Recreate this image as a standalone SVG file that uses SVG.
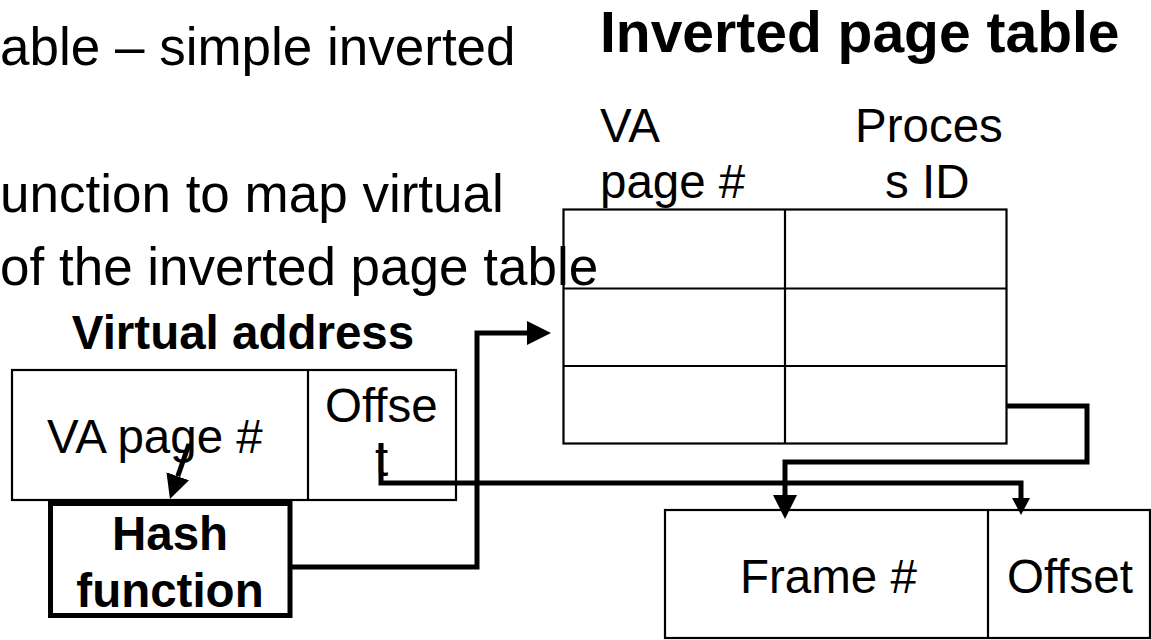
<svg xmlns="http://www.w3.org/2000/svg" width="1151" height="640" viewBox="0 0 1151 640">
<style>
  text { font-family: "Liberation Sans", Arial, sans-serif; fill: #000; }
  .body { font-size: 53px; }
  .title { font-size: 57px; font-weight: bold; }
  .lbl { font-size: 47.5px; }
  .blbl { font-size: 47.5px; font-weight: bold; }
  .box { fill: #fff; stroke: #000; stroke-width: 2.2; }
  .tbl { fill: none; stroke: #000; stroke-width: 2.2; }
  .thin { fill: none; stroke: #000; stroke-width: 2.2; }
  .hash { fill: #fff; stroke: #000; stroke-width: 5; }
  .conn { fill: none; stroke: #000; stroke-width: 5; stroke-linejoin: miter; }
</style>
<defs>
  <marker id="big" markerUnits="userSpaceOnUse" viewBox="0 -12 24 24" markerWidth="24" markerHeight="24" refX="0" refY="0" orient="auto">
    <path d="M0,-12 L24,0 L0,12 Z" fill="#000"/>
  </marker>
  <marker id="small" markerUnits="userSpaceOnUse" viewBox="0 -9 17 18" markerWidth="17" markerHeight="18" refX="0" refY="0" orient="auto">
    <path d="M0,-9 L17,0 L0,9 Z" fill="#000"/>
  </marker>
</defs>

<g id="inverted-table">
  <text class="lbl" x="600" y="142">VA</text>
  <text class="lbl" x="600" y="198">page #</text>
  <text class="lbl" x="855" y="142">Proces</text>
  <text class="lbl" x="885" y="198">s ID</text>
  <rect class="tbl" x="563.5" y="209.5" width="443" height="234"/>
  <line class="thin" x1="563.5" y1="288.5" x2="1006.5" y2="288.5"/>
  <line class="thin" x1="563.5" y1="366" x2="1006.5" y2="366"/>
  <line class="thin" x1="785" y1="209.5" x2="785" y2="443.5"/>
</g>

<g id="bullet-text">
  <text class="body" x="0" y="65">able – simple inverted</text>
  <text class="body" x="0" y="212">unction to map virtual</text>
  <text class="body" x="0" y="285">of the inverted page table</text>
</g>

<g id="title">
  <text class="title" x="600" y="52">Inverted page table</text>
</g>

<g id="virtual-address">
  <text class="blbl" x="243" y="349" text-anchor="middle">Virtual address</text>
  <rect class="box" x="12" y="370" width="444" height="130"/>
  <line class="thin" x1="308" y1="370" x2="308" y2="500"/>
  <text class="lbl" x="47" y="453">VA page #</text>
  <text class="lbl" x="325" y="422">Offse</text>
  <text class="lbl" x="375" y="476">t</text>
</g>

<g id="hash-function">
  <rect class="hash" x="50.5" y="503.5" width="239.5" height="112"/>
  <text class="blbl" x="170" y="550" text-anchor="middle">Hash</text>
  <text class="blbl" x="170" y="607" text-anchor="middle">function</text>
</g>

<g id="physical-address">
  <rect class="box" x="665" y="510" width="485" height="128"/>
  <line class="thin" x1="988" y1="510" x2="988" y2="638"/>
  <text class="lbl" x="740" y="593">Frame #</text>
  <text class="lbl" x="1007" y="593">Offset</text>
</g>

<g id="connectors">
  <path class="conn" d="M189,444 L177.8,476.3" stroke-width="4" marker-end="url(#big)"/>
  <path class="conn" d="M290,567 H477 V333 H527" marker-end="url(#big)"/>
  <path class="conn" d="M1007,406 H1087 V462 H785 V495" marker-end="url(#big)"/>
  <path class="conn" d="M381,443 V483 H1021 V498" stroke-width="4.5" marker-end="url(#small)"/>
</g>
</svg>
